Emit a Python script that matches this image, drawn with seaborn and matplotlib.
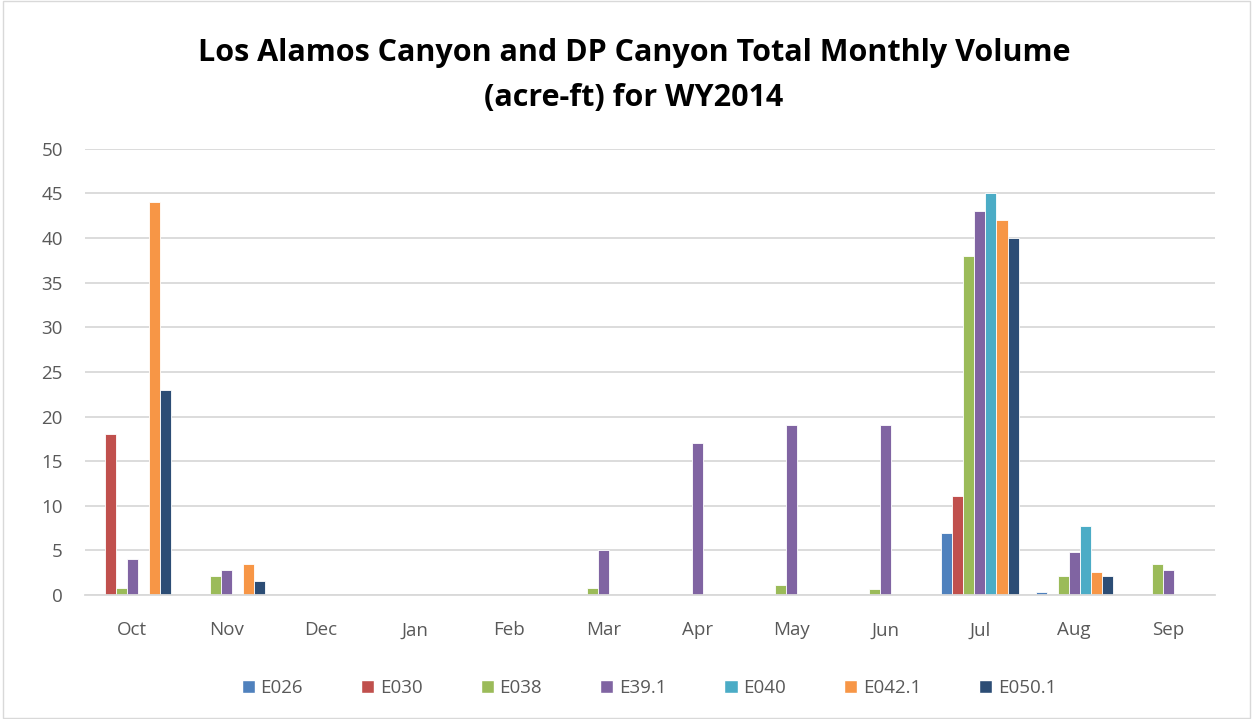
import matplotlib
matplotlib.use("Agg")
import matplotlib.pyplot as plt
import pandas as pd
import seaborn as sns
from matplotlib.patches import Rectangle

months = ["Oct", "Nov", "Dec", "Jan", "Feb", "Mar", "Apr", "May", "Jun", "Jul", "Aug", "Sep"]
stations = ["E026", "E030", "E038", "E39.1", "E040", "E042.1", "E050.1"]

e026 = [0, 0, 0, 0, 0, 0, 0, 0, 0, 6.95, 0.37, 0]
e030 = [18.0, 0, 0, 0, 0, 0, 0, 0, 0, 11.05, 0, 0]
e038 = [0.75, 2.15, 0, 0, 0, 0.75, 0, 1.15, 0.67, 38.0, 2.17, 3.47]
e39_1 = [4.05, 2.77, 0, 0, 0, 5.0, 17.0, 19.0, 19.0, 43.0, 4.86, 2.77]
e040 = [0, 0, 0, 0, 0, 0, 0, 0, 0, 45.0, 7.74, 0]
e042_1 = [44.0, 3.47, 0, 0, 0, 0, 0, 0, 0, 42.0, 2.54, 0]
e050_1 = [23.0, 1.53, 0, 0, 0, 0, 0, 0, 0, 40.0, 2.16, 0]

colors = ["#4F81BD", "#C0504D", "#9BBB59", "#8064A2", "#4BACC6", "#F79646", "#2C4D75"]

series = [e026, e030, e038, e39_1, e040, e042_1, e050_1]
rows = []
for st, vals in zip(stations, series):
    for m, v in zip(months, vals):
        rows.append({"month": m, "station": st, "volume": v})
df = pd.DataFrame(rows)

sns.set_style("white")
plt.rcParams["font.family"] = ["Open Sans", "DejaVu Sans"]

fig = plt.figure(figsize=(12.53, 7.19), dpi=100)
ax = fig.add_axes([0.068, 0.1725, 0.902, 0.6205])

sns.barplot(
    data=df, x="month", y="volume", hue="station", order=months, hue_order=stations,
    palette=colors, saturation=1, width=0.82, edgecolor="white", linewidth=0.6, ax=ax,
    legend=False,
)

ax.set_ylim(0, 50)
ax.set_xlim(-0.5, 11.5)
ax.set_yticks(range(0, 51, 5))
ax.yaxis.grid(True, color="#D9D9D9", linewidth=1.3)
ax.set_axisbelow(True)
for s in ["top", "right", "left"]:
    ax.spines[s].set_visible(False)
ax.spines["bottom"].set_color("#D9D9D9")
ax.spines["bottom"].set_linewidth(1.3)
ax.tick_params(axis="both", length=0, labelsize=13.5, labelcolor="#595959")
ax.tick_params(axis="x", pad=19)
ax.tick_params(axis="y", pad=16)
ax.set_xlabel("")
ax.set_ylabel("")

fig.text(0.506, 0.895, "Los Alamos Canyon and DP Canyon Total Monthly Volume\n(acre-ft) for WY2014",
         ha="center", va="center", fontsize=22, fontweight="bold", color="black", linespacing=1.65)

handles = [Rectangle((0, 0), 1, 1, facecolor=c) for c in colors]
fig.legend(handles, stations, loc="center", bbox_to_anchor=(0.518, 0.043), ncol=7, frameon=False,
           fontsize=13.5, labelcolor="#595959", handlelength=0.7, handleheight=0.7,
           handletextpad=0.3, columnspacing=3.1)

fig.patches.append(Rectangle((0.002, 0.002), 0.996, 0.996, transform=fig.transFigure,
                             fill=False, edgecolor="#D9D9D9", linewidth=1))

fig.savefig("out.png", dpi=100)
